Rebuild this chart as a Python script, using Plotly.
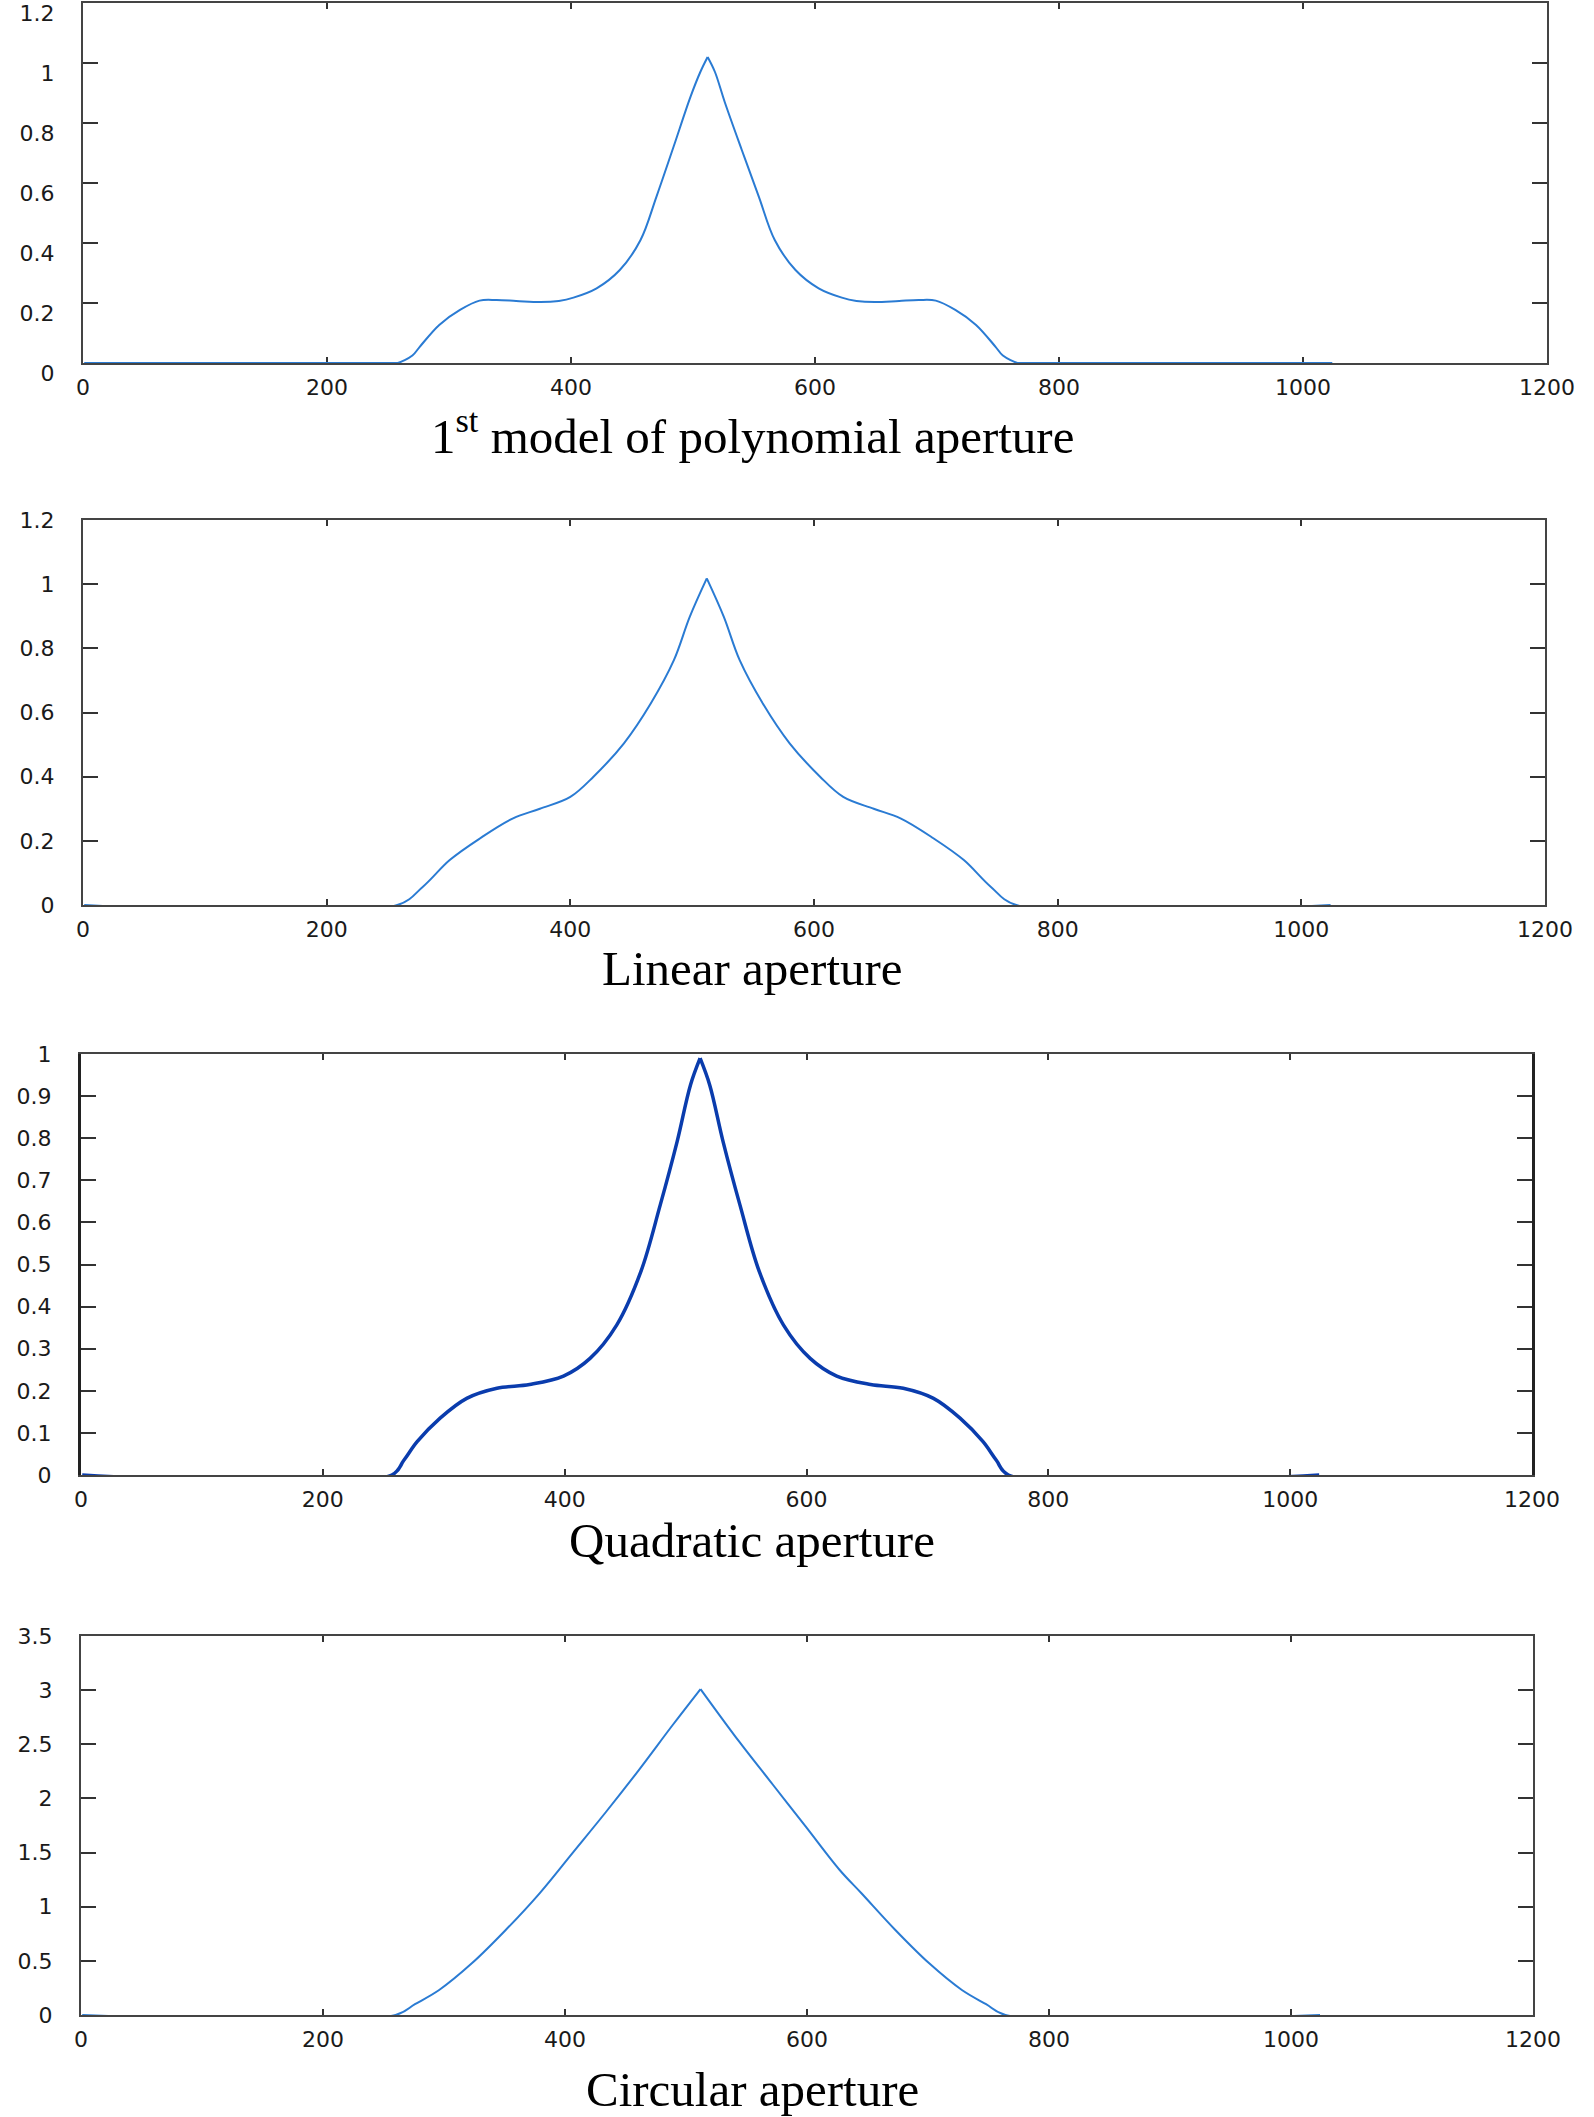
import plotly.graph_objects as go

# %% Data (sample index vs amplitude)
poly_x = [1, 256, 258, 270, 276, 292, 309, 325, 339, 355, 375, 390, 402, 421, 440, 457, 470, 484, 498, 506, 512,
          518, 526, 540, 554, 567, 584, 603, 622, 634, 649, 669, 685, 699, 715, 732, 748, 754, 766, 768, 1024]
poly_y = [0, 0, 0, 0.025, 0.054, 0.127, 0.177, 0.208, 0.21, 0.207, 0.203, 0.207, 0.218, 0.249, 0.31, 0.41, 0.554,
          0.72, 0.888, 0.97, 1.02, 0.97, 0.87, 0.71, 0.554, 0.41, 0.31, 0.249, 0.218, 0.207, 0.203, 0.207, 0.21,
          0.208, 0.177, 0.127, 0.054, 0.025, 0, 0, 0]

lin_x = [1, 258, 279, 301, 326, 353, 375, 400, 419, 444, 466, 485, 498, 512, 526, 539, 558, 580, 605, 624, 649,
         671, 698, 723, 745, 766, 1024]
lin_y = [0, 0, 0.057, 0.14, 0.208, 0.27, 0.30, 0.337, 0.40, 0.504, 0.628, 0.763, 0.898, 1.018, 0.898, 0.763, 0.628,
         0.504, 0.40, 0.337, 0.30, 0.27, 0.208, 0.14, 0.057, 0, 0]

quad_x = [1, 257, 267, 278, 297, 319, 344, 371, 399, 421, 443, 463, 479, 493, 504, 512, 520, 531, 545, 561, 581,
          603, 625, 653, 680, 705, 727, 746, 757, 767, 1024]
quad_y = [0, 0, 0.035, 0.079, 0.135, 0.182, 0.206, 0.215, 0.235, 0.277, 0.356, 0.483, 0.641, 0.792, 0.926, 0.99,
          0.926, 0.792, 0.641, 0.483, 0.356, 0.277, 0.235, 0.215, 0.206, 0.182, 0.135, 0.079, 0.035, 0, 0]

circ_x = [1, 260, 276, 296, 323, 351, 379, 406, 434, 461, 489, 512, 544, 572, 599, 627, 645, 673, 701, 728, 748,
          764, 1024]
circ_y = [0, 0, 0.1, 0.231, 0.477, 0.785, 1.124, 1.493, 1.877, 2.262, 2.678, 3.01, 2.524, 2.124, 1.739, 1.339,
          1.124, 0.785, 0.477, 0.231, 0.1, 0, 0]

x_ticks = [0, 200, 400, 600, 800, 1000, 1200]
y_ticks_12 = [0, 0.2, 0.4, 0.6, 0.8, 1, 1.2]
y_ticks_1 = [0, 0.1, 0.2, 0.3, 0.4, 0.5, 0.6, 0.7, 0.8, 0.9, 1]
y_ticks_35 = [0, 0.5, 1, 1.5, 2, 2.5, 3, 3.5]

titles = ['1<sup>st</sup> model of polynomial aperture', 'Linear aperture',
          'Quadratic aperture', 'Circular aperture']

# %% Layout geometry (pixels of a 1594 x 2117 page)
W, H = 1594, 2117
panels = [
    dict(x0=83, x1=1547, top=3, bot=363, yr=[0, 1.2], yt=y_ticks_12, ty=432, col='#2a7bd3', lw=2, fw=2, shift=10),
    dict(x0=83, x1=1545, top=520, bot=905, yr=[0, 1.2], yt=y_ticks_12, ty=968, col='#2a7bd3', lw=2, fw=2, shift=0),
    dict(x0=81, x1=1532, top=1054, bot=1475, yr=[0, 1], yt=y_ticks_1, ty=1540, col='#0a3cad', lw=3.5, fw=3, shift=0),
    dict(x0=81, x1=1533, top=1636, bot=2015, yr=[0, 3.5], yt=y_ticks_35, ty=2089, col='#2a7bd3', lw=2, fw=2, shift=0),
]
series = [(poly_x, poly_y), (lin_x, lin_y), (quad_x, quad_y), (circ_x, circ_y)]

fig = go.Figure()
tick_font = dict(family='DejaVu Sans', size=22, color='#1a1a1a')

for i, (p, (sx, sy)) in enumerate(zip(panels, series), start=1):
    sfx = '' if i == 1 else str(i)
    # split at the peak so the cusp stays sharp while the flanks are smoothed
    k = sy.index(max(sy))
    for xs, ys in ((sx[:k + 1], sy[:k + 1]), (sx[k:], sy[k:])):
        fig.add_trace(go.Scatter(
            x=xs, y=ys, mode='lines',
            line=dict(color=p['col'], width=p['lw'], shape='spline', smoothing=1.0),
            xaxis='x' + sfx, yaxis='y' + sfx, showlegend=False
        ))

    fig.layout['xaxis' + sfx] = dict(
        domain=[p['x0'] / W, p['x1'] / W], anchor='y' + sfx, automargin=False,
        range=[0, 1200], tickvals=x_ticks, ticks='inside', ticklen=6, tickwidth=2,
        tickcolor='#333', showline=True, linecolor='#444', linewidth=2, mirror='allticks',
        showgrid=False, zeroline=False, tickfont=tick_font, ticklabelstandoff=4,
        ticklabeloverflow='allow', layer='below traces'
    )
    fig.layout['yaxis' + sfx] = dict(
        domain=[1 - p['bot'] / H, 1 - p['top'] / H], anchor='x' + sfx, automargin=False,
        range=p['yr'], tickvals=p['yt'], ticks='inside', ticklen=15, tickwidth=2,
        tickcolor='#333', showline=True, linecolor='#222' if i == 3 else '#444',
        linewidth=p['fw'], mirror='allticks', showgrid=False, zeroline=False,
        tickfont=tick_font, ticklabelstandoff=22, ticklabelshift=p['shift'],
        ticklabeloverflow='allow', layer='below traces'
    )

    fig.add_annotation(
        text=titles[i - 1], x=752 / W, y=1 - p['ty'] / H, xref='paper', yref='paper',
        xanchor='center', yanchor='middle', showarrow=False,
        font=dict(family='Liberation Serif', size=49, color='black')
    )

fig.update_layout(
    width=W, height=H,
    margin=dict(l=0, r=0, t=0, b=0),
    paper_bgcolor='white', plot_bgcolor='white'
)

fig.write_html('out.html', config={'displayModeBar': False},
               post_script="document.body.style.margin='0';document.body.style.overflow='hidden';")
